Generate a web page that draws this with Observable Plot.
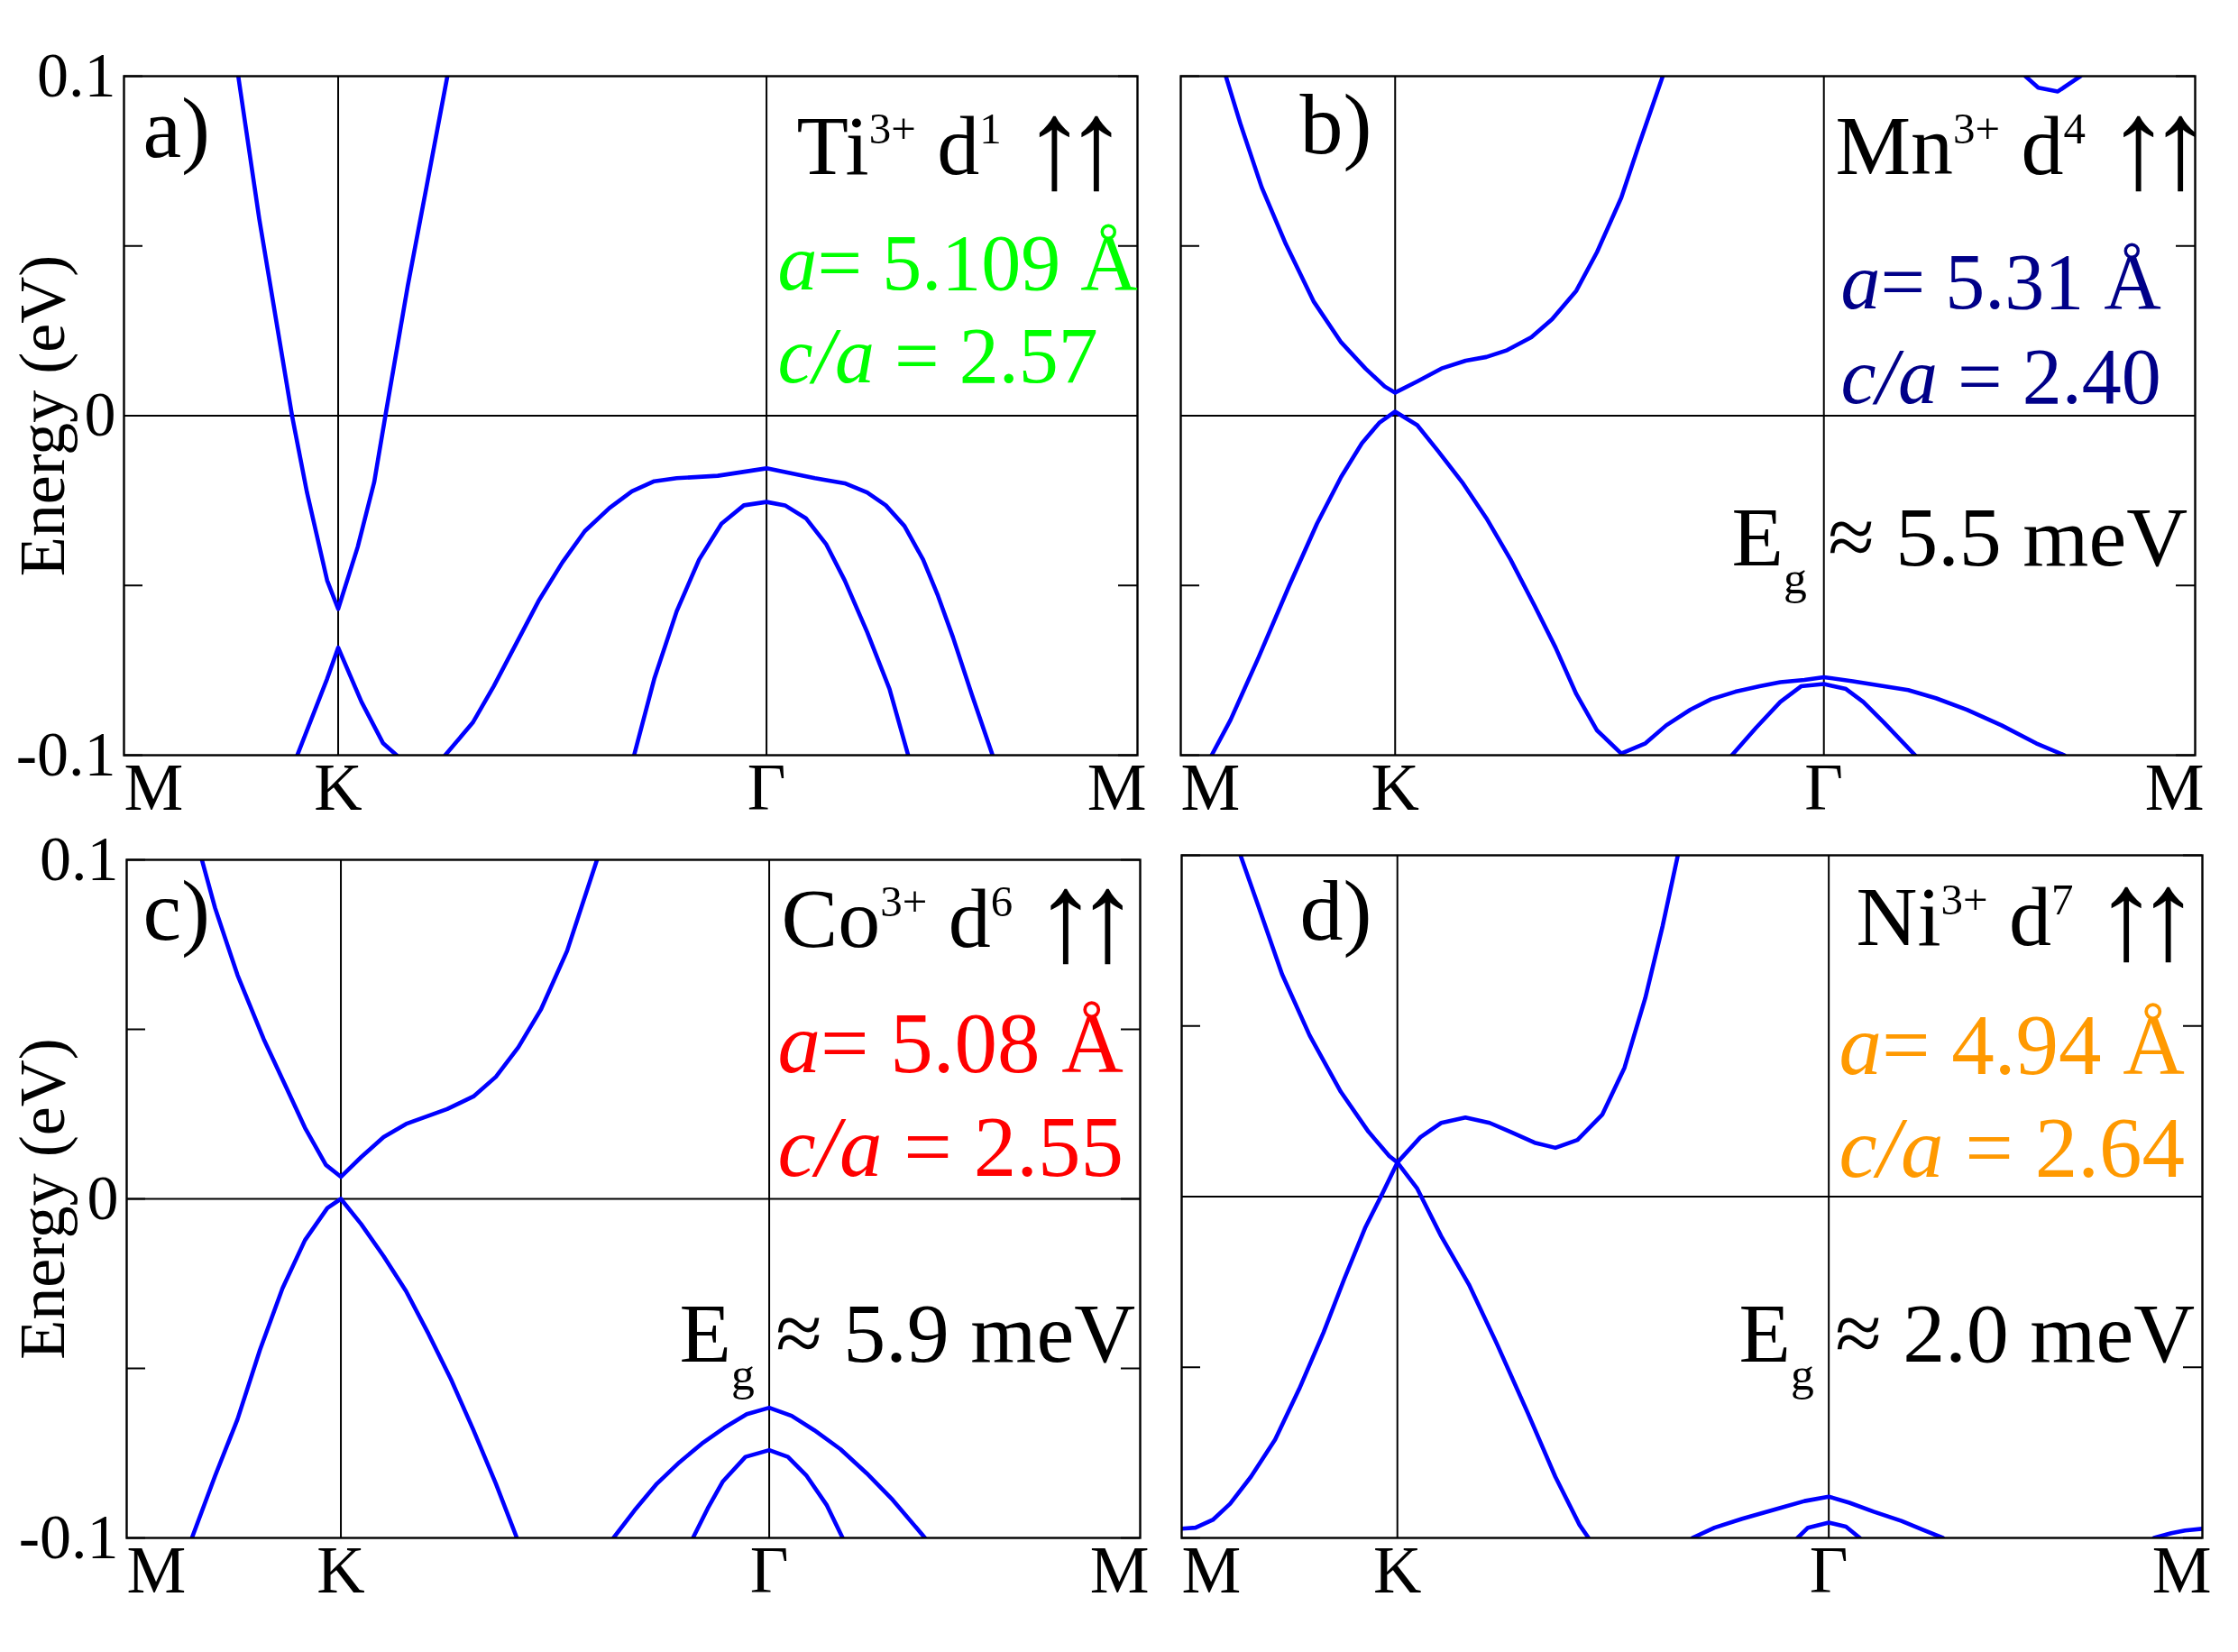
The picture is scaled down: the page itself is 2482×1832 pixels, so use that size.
<!DOCTYPE html>
<html>
<head>
<meta charset="utf-8">
<script src="https://cdn.jsdelivr.net/npm/d3@7"></script>
<script src="https://cdn.jsdelivr.net/npm/@observablehq/plot@0.6"></script>
<style>
  html, body { margin: 0; padding: 0; background: #fff; }
  #chart { position: relative; width: 2482px; height: 1832px; background: #fff; overflow: hidden; }
</style>
</head>
<body>
<div id="chart"></div>
<script>
// ---------- axis data ----------
const kTickPos = [0, 0.6667, 2.0, 3.1547];
const kTickLabels = ["M", "K", "Γ", "M"];
const eTickPos = [-0.1, 0, 0.1];
const eTickLabels = ["-0.1", "0", "0.1"];
const eMinorTicks = [-0.1, -0.05, 0, 0.05, 0.1];

// ---------- panel a : Ti3+ d1 ----------
const bandA1 = [[0.3557,0.1],[0.421,0.058],[0.5231,0.0],[0.5696,-0.0226],[0.6323,-0.0485],[0.6667,-0.0569],[0.7277,-0.0386],[0.7788,-0.0196],[0.8137,0.0],[0.8834,0.0383],[0.9415,0.0673],[1.0066,0.1]];
const bandA2 = [[0.5394,-0.1],[0.6323,-0.0775],[0.6667,-0.0683],[0.7393,-0.0843],[0.8067,-0.0965],[0.8486,-0.1]];
const bandA3 = [[0.9997,-0.1],[1.0857,-0.0904],[1.1508,-0.0797],[1.2903,-0.0546],[1.3647,-0.0432],[1.4344,-0.0340],[1.5111,-0.0272],[1.5809,-0.0223],[1.6506,-0.0193],[1.7204,-0.0184],[1.8482,-0.0177],[2.0,-0.0155],[2.1504,-0.0184],[2.2434,-0.0199],[2.3132,-0.0226],[2.3713,-0.0264],[2.4294,-0.0325],[2.4875,-0.0424],[2.5340,-0.0531],[2.5805,-0.0653],[2.6386,-0.0820],[2.7037,-0.1]];
const bandA4 = [[1.5878,-0.1],[1.6506,-0.0775],[1.7204,-0.0576],[1.7901,-0.0424],[1.8598,-0.0318],[1.9296,-0.0264],[2.0,-0.0254],[2.0574,-0.0264],[2.1225,-0.0302],[2.1853,-0.0378],[2.2434,-0.0485],[2.3132,-0.0637],[2.3829,-0.0805],[2.4410,-0.1]];

// ---------- panel b : Mn3+ d4 ----------
const bandB1 = [[0.1402,0.1],[0.1871,0.0855],[0.2516,0.0673],[0.3269,0.0505],[0.4129,0.0337],[0.4989,0.0216],[0.5742,0.0139],[0.6344,0.0086],[0.6667,0.0068],[0.7355,0.0101],[0.8107,0.0139],[0.8860,0.0162],[0.9505,0.0173],[1.0150,0.0193],[1.0903,0.0231],[1.1548,0.0284],[1.2301,0.0368],[1.2946,0.0482],[1.3699,0.0642],[1.4236,0.0794],[1.4989,0.1]];
const bandB2 = [[0.0960,-0.1],[0.1548,-0.0896],[0.2409,-0.0714],[0.3376,-0.0500],[0.4236,-0.0318],[0.4989,-0.0180],[0.5634,-0.0081],[0.6172,-0.0021],[0.6667,0.0012],[0.7355,-0.0028],[0.8000,-0.0104],[0.8753,-0.0196],[0.9505,-0.0302],[1.0258,-0.0424],[1.1011,-0.0561],[1.1656,-0.0683],[1.2301,-0.0820],[1.2946,-0.0927],[1.3699,-0.0995],[1.4451,-0.0965],[1.5097,-0.0912],[1.5849,-0.0866],[1.6494,-0.0835],[1.7247,-0.0813],[1.8000,-0.0797],[1.8645,-0.0785],[1.9397,-0.0778],[2.0,-0.0770],[2.0903,-0.0782],[2.1871,-0.0797],[2.2623,-0.0808],[2.3483,-0.0832],[2.4451,-0.0866],[2.5526,-0.0912],[2.6602,-0.0965],[2.7480,-0.1]];
const bandB3 = [[1.7140,-0.1],[1.7892,-0.0919],[1.8645,-0.0843],[1.9290,-0.0797],[2.0,-0.0790],[2.0688,-0.0805],[2.1225,-0.0843],[2.1871,-0.0904],[2.2838,-0.1]];
const bandB4 = [[2.6267,0.1],[2.6668,0.0966],[2.7276,0.0955],[2.7977,0.1]];

// ---------- panel c : Co3+ d6 ----------
const bandC1 = [[0.2340,0.1],[0.2751,0.0858],[0.3450,0.0660],[0.4266,0.0471],[0.4965,0.0329],[0.5548,0.0210],[0.6201,0.0100],[0.6667,0.0065],[0.7296,0.0123],[0.7996,0.0182],[0.8695,0.0221],[0.9977,0.0265],[1.0793,0.0302],[1.1492,0.0360],[1.2191,0.0447],[1.2891,0.0558],[1.3707,0.0731],[1.4639,0.1]];
const bandC2 = [[0.2030,-0.1],[0.2751,-0.0817],[0.3450,-0.0650],[0.4150,-0.0445],[0.4849,-0.0264],[0.5548,-0.0122],[0.6247,-0.0027],[0.6667,0.0],[0.7296,-0.0074],[0.7996,-0.0169],[0.8695,-0.0272],[0.9394,-0.0398],[1.0093,-0.0532],[1.0793,-0.0682],[1.1492,-0.0840],[1.2145,-0.1]];
const bandC3 = [[1.5152,-0.1],[1.5805,-0.0919],[1.6504,-0.0840],[1.7203,-0.0777],[1.7902,-0.0722],[1.8602,-0.0675],[1.9301,-0.0635],[2.0,-0.0616],[2.0699,-0.0640],[2.1399,-0.0682],[2.2215,-0.0738],[2.3031,-0.0809],[2.3846,-0.0888],[2.4849,-0.1]];
const bandC4 = [[1.7626,-0.1],[1.8090,-0.0912],[1.8560,-0.0833],[1.9260,-0.0761],[2.0,-0.0741],[2.0583,-0.0761],[2.1166,-0.0817],[2.1795,-0.0904],[2.2285,-0.1]];

// ---------- panel d : Ni3+ d7 ----------
const bandD1 = [[0.1818,0.1],[0.2353,0.0856],[0.3101,0.0652],[0.3957,0.0472],[0.4919,0.0307],[0.5775,0.0190],[0.6416,0.0119],[0.6667,0.0100],[0.7272,0.0025],[0.8021,-0.0116],[0.8876,-0.0257],[0.9731,-0.0429],[1.0694,-0.0633],[1.1550,-0.0821],[1.2298,-0.0962],[1.2576,-0.1]];
const bandD2 = [[0.0,-0.0973],[0.0428,-0.0970],[0.0962,-0.0947],[0.1497,-0.0900],[0.2139,-0.0821],[0.2887,-0.0712],[0.3636,-0.0563],[0.4385,-0.0398],[0.5026,-0.0241],[0.5668,-0.0092],[0.6203,0.0009],[0.6667,0.0100],[0.7379,0.0174],[0.8021,0.0216],[0.8769,0.0232],[0.9518,0.0216],[1.0159,0.0190],[1.0908,0.0158],[1.1550,0.0143],[1.2234,0.0166],[1.3004,0.0241],[1.3688,0.0378],[1.4330,0.0582],[1.4865,0.0793],[1.5335,0.1]];
const bandD3 = [[1.5784,-0.1],[1.6469,-0.0970],[1.7324,-0.0944],[1.8501,-0.0912],[1.9249,-0.0892],[2.0,-0.0879],[2.0639,-0.0897],[2.1388,-0.0923],[2.2244,-0.0950],[2.2885,-0.0975],[2.3527,-0.1]];
const bandD4 = [[1.9035,-0.1],[1.9356,-0.0970],[2.0,-0.0955],[2.0532,-0.0967],[2.0960,-0.1]];
const bandD5 = [[3.0050,-0.1],[3.0585,-0.0986],[3.1013,-0.0978],[3.1547,-0.0973]];

// ---------- annotation texts ----------
const panelLetters = ["a)", "b)", "c)", "d)"];
const ionLabels = ["Ti^{3+} d^{1} #{↑↑}", "Mn^{3+} d^{4} #{↑↑}", "Co^{3+} d^{6} #{↑↑}", "Ni^{3+} d^{7} #{↑↑}"];
const latticeA = ["*a*= 5.109 Å", "*a*= 5.31 Å", "*a*= 5.08 Å", "*a*= 4.94 Å"];
const ratioCA = ["*c/a* = 2.57", "*c/a* = 2.40", "*c/a* = 2.55", "*c/a* = 2.64"];
const gapLabels = [null, "E_{g} ≈ 5.5 meV", "E_{g} ≈ 5.9 meV", "E_{g} ≈ 2.0 meV"];
const paramColors = ["#00ff00", "#000088", "#ff0000", "#ff9900"];
const yAxisTitle = "Energy (eV)";

// ---------- styling ----------
const FONT = "'Liberation Serif', 'Times New Roman', Times, serif";
const BAND_COLOR = "#0000ff";
const SUP_SCALE = 0.52, SUP_SHIFT = 0.36, SUB_SCALE = 0.55, SUB_SHIFT = 0.34;
const BIG_SCALE = 1.5, BIG_SHIFT = 0.17, BIG_SPACING = -0.17;

function bandRows(bands) {
  return bands.flatMap((b, i) => b.map(([k, e]) => ({k, e, band: i})));
}

function applyMarkup(svg) {
  svg.querySelectorAll("text").forEach(t => {
    const s = t.textContent;
    if (!/\^\{|_\{|#\{|\*/.test(s)) return;
    const segs = [];
    let i = 0, buf = "", mode = "n";
    const push = (txt, m) => { if (txt) segs.push({txt, m}); };
    while (i < s.length) {
      if ((s[i] === "^" || s[i] === "_" || s[i] === "#") && s[i + 1] === "{") {
        push(buf, mode); buf = "";
        const j = s.indexOf("}", i);
        push(s.slice(i + 2, j), s[i] === "^" ? "sup" : s[i] === "_" ? "sub" : "big");
        i = j + 1;
      } else if (s[i] === "*") {
        push(buf, mode); buf = "";
        mode = mode === "it" ? "n" : "it";
        i++;
      } else { buf += s[i]; i++; }
    }
    push(buf, mode);
    t.textContent = "";
    let shift = 0;
    segs.forEach(seg => {
      const ts = document.createElementNS("http://www.w3.org/2000/svg", "tspan");
      ts.textContent = seg.txt;
      let target = 0, scale = 1;
      if (seg.m === "sup") { target = -SUP_SHIFT; scale = SUP_SCALE; }
      else if (seg.m === "sub") { target = SUB_SHIFT; scale = SUB_SCALE; }
      else if (seg.m === "big") { target = BIG_SHIFT; scale = BIG_SCALE; ts.setAttribute("letter-spacing", BIG_SPACING + "em"); }
      else if (seg.m === "it") ts.setAttribute("font-style", "italic");
      if (scale !== 1) ts.setAttribute("font-size", scale + "em");
      const d = target - shift;
      if (d) ts.setAttribute("dy", (d / scale).toFixed(4) + "em");
      shift = target;
      t.appendChild(ts);
    });
  });
}

const kTicks = kTickPos.map((k, i) => ({k, label: kTickLabels[i]}));
const eTicks = eTickPos.map((e, i) => ({e, label: eTickLabels[i]}));

function makePanel(idx, bands, box, margin, pos, showY, paramSize) {
  const fw = box.w - margin.l - margin.r;
  const ann = (txt, p, color, size) => Plot.text([txt], {
    text: d => d, frameAnchor: "top-left", textAnchor: "start", lineAnchor: "bottom",
    dx: p[0], dy: p[1], fill: color, fontSize: size
  });
  const marks = [
    Plot.ruleY([0], {stroke: "black", strokeWidth: 2}),
    Plot.ruleX(kTicks.slice(1, 3), {x: "k", stroke: "black", strokeWidth: 2}),
    Plot.line(bandRows(bands), {x: "k", y: "e", z: "band", stroke: BAND_COLOR, strokeWidth: 4.6, strokeLinejoin: "round", clip: true}),
    Plot.frame({stroke: "black", strokeWidth: 2.4}),
    Plot.tickY(eMinorTicks, {y: d => d, stroke: "black", strokeWidth: 2, insetRight: fw - 21}),
    Plot.tickY(eMinorTicks, {y: d => d, stroke: "black", strokeWidth: 2, insetLeft: fw - 21}),
    Plot.text(kTicks.slice(0, 1), {x: "k", text: "label", frameAnchor: "bottom", textAnchor: "start", lineAnchor: "top", dy: 8, fontSize: 74}),
    Plot.text(kTicks.slice(1, 3), {x: "k", text: "label", frameAnchor: "bottom", textAnchor: "middle", lineAnchor: "top", dy: 8, fontSize: 74}),
    Plot.text(kTicks.slice(3), {x: "k", text: "label", frameAnchor: "bottom", textAnchor: "end", lineAnchor: "top", dy: 8, dx: 10, fontSize: 74}),
    ann(panelLetters[idx], pos.letter, "black", 96),
    ann(ionLabels[idx], pos.ion, "black", 94),
    ann(latticeA[idx], pos.a, paramColors[idx], paramSize),
    ann(ratioCA[idx], pos.ca, paramColors[idx], paramSize)
  ];
  if (gapLabels[idx]) marks.push(ann(gapLabels[idx], pos.eg, "black", 94));
  if (showY) {
    marks.push(
      Plot.text(eTicks, {y: "e", text: "label", frameAnchor: "left", textAnchor: "end", lineAnchor: "middle", dx: -9, fontSize: 70}),
      Plot.text([yAxisTitle], {text: d => d, frameAnchor: "left", rotate: -90, textAnchor: "middle", lineAnchor: "bottom", dx: showY, fontSize: 72})
    );
  }
  const svg = Plot.plot({
    width: box.w, height: box.h,
    marginLeft: margin.l, marginRight: margin.r, marginTop: margin.t, marginBottom: margin.b,
    x: {domain: [kTickPos[0], kTickPos[3]], axis: null},
    y: {domain: [eTickPos[0], eTickPos[2]], axis: null},
    style: {fontFamily: FONT, background: "transparent", overflow: "visible", color: "black"},
    marks
  });
  svg.setAttribute("font-family", FONT);
  svg.style.position = "absolute";
  svg.style.left = box.x + "px";
  svg.style.top = box.y + "px";
  svg.style.overflow = "visible";
  svg.style.maxWidth = "none";
  applyMarkup(svg);
  document.getElementById("chart").appendChild(svg);
}

makePanel(0, [bandA1, bandA2, bandA3, bandA4],
  {x: 0, y: 0, w: 1290, h: 900}, {l: 137, r: 29, t: 84, b: 63},
  {letter: [21, 89], ion: [746, 108], a: [725, 236], ca: [725, 339]}, -67, 88);
makePanel(1, [bandB1, bandB2, bandB3, bandB4],
  {x: 1290, y: 0, w: 1192, h: 900}, {l: 19, r: 48, t: 84, b: 63},
  {letter: [132, 85], ion: [726, 108], a: [732, 257], ca: [732, 362], eg: [611, 542]}, 0, 88);
makePanel(2, [bandC1, bandC2, bandC3, bandC4],
  {x: 0, y: 900, w: 1290, h: 932}, {l: 140, r: 26, t: 53, b: 127},
  {letter: [18, 88], ion: [726, 96], a: [722, 235], ca: [722, 350], eg: [613, 556]}, -70, 95);
makePanel(3, [bandD1, bandD2, bandD3, bandD4, bandD5],
  {x: 1290, y: 900, w: 1192, h: 932}, {l: 20, r: 40, t: 48, b: 127},
  {letter: [131, 93], ion: [748, 99], a: [729, 242], ca: [729, 356], eg: [618, 561]}, 0, 95);
</script>
</body>
</html>
